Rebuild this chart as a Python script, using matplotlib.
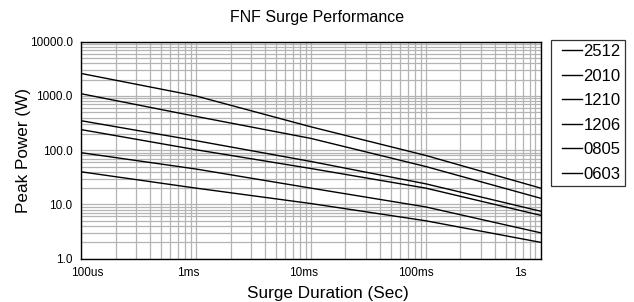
import matplotlib
matplotlib.use("Agg")
import matplotlib.pyplot as plt
import matplotlib.transforms as mtransforms
from matplotlib.legend_handler import HandlerLine2D
import numpy as np

plt.rcParams['font.family'] = ['Liberation Sans', 'DejaVu Sans']

# Data
durations = [1e-4, 1e-3, 1e-2, 1e-1, 1.0]
series_names = ["2512", "2010", "1210", "1206", "0805", "0603"]
p_2512 = [2600, 1000, 270, 80, 20]
p_2010 = [1100, 420, 165, 50, 13]
p_1210 = [350, 150, 62, 24, 7.5]
p_1206 = [240, 102, 46, 20, 6.3]
p_0805 = [90, 45, 20, 9, 3]
p_0603 = [40, 20, 10.4, 5, 2]
series_values = [p_2512, p_2010, p_1210, p_1206, p_0805, p_0603]

x_ticks = [1e-4, 1e-3, 1e-2, 1e-1, 1.0]
x_labels = ["100us", "1ms", "10ms", "100ms", "1s"]
y_ticks = [1, 10, 100, 1000, 10000]
y_labels = ["1.0", "10.0", "100.0", "1000.0", "10000.0"]

W, H = 634, 302
fig = plt.figure(figsize=(W / 100, H / 100), dpi=100)
ax = fig.add_axes([81 / W, 1 - 258.7 / H, (540.7 - 81) / W, (258.7 - 41.7) / H])

ax.set_xscale('log')
ax.set_yscale('log')
ax.set_xlim(1e-4, 1.0)
ax.set_ylim(1, 10000)

for name, vals in zip(series_names, series_values):
    ax.plot(durations, vals, color='black', lw=1.0, label=name)

ax.grid(True, which='both', color='#b4b4b4', lw=0.9)
ax.set_axisbelow(True)

ax.set_xticks(x_ticks)
ax.set_xticklabels(x_labels, fontsize=8.5)
ax.set_yticks(y_ticks)
ax.set_yticklabels(y_labels, fontsize=8.5)
ax.tick_params(which='both', length=0, pad=6)
ax.xaxis.set_minor_formatter(matplotlib.ticker.NullFormatter())
ax.yaxis.set_minor_formatter(matplotlib.ticker.NullFormatter())

# shift x tick labels as in reference
offsets_px = [6, -7.5, -7.5, -10, -20]
for lab, dx in zip(ax.get_xticklabels(), offsets_px):
    lab.set_transform(lab.get_transform() + mtransforms.ScaledTranslation(dx / 100, 0, fig.dpi_scale_trans))

for s in ax.spines.values():
    s.set_color('black')
    s.set_linewidth(1.0)

ax.set_title("FNF Surge Performance", fontsize=11.5, pad=14, x=0.514)
ax.set_xlabel("Surge Duration (Sec)", fontsize=12.3, labelpad=5, x=0.538)
ax.set_ylabel("Peak Power (W)", fontsize=12.3, labelpad=-1)


class ShortLine(HandlerLine2D):
    def create_artists(self, legend, orig_handle, xdescent, ydescent,
                       width, height, fontsize, trans):
        arts = super().create_artists(legend, orig_handle, xdescent, ydescent,
                                      width, height, fontsize, trans)
        for a in arts:
            xd = np.asarray(a.get_xdata(), dtype=float)
            if len(xd) >= 2:
                x0 = xd[0] + 0.25 * (xd[-1] - xd[0])
                a.set_xdata(np.linspace(x0, xd[-1], len(xd)))
        return arts


leg = fig.legend(loc='upper left', bbox_to_anchor=(551 / W, 1 - 40 / H),
                 fontsize=12, handlelength=1.6, handletextpad=0.1,
                 labelspacing=0.57, borderpad=0.25, borderaxespad=0,
                 fancybox=False, frameon=True,
                 handler_map={matplotlib.lines.Line2D: ShortLine()})
leg.get_frame().set_edgecolor('black')
leg.get_frame().set_linewidth(0.9)

fig.savefig("out.png", dpi=100)
